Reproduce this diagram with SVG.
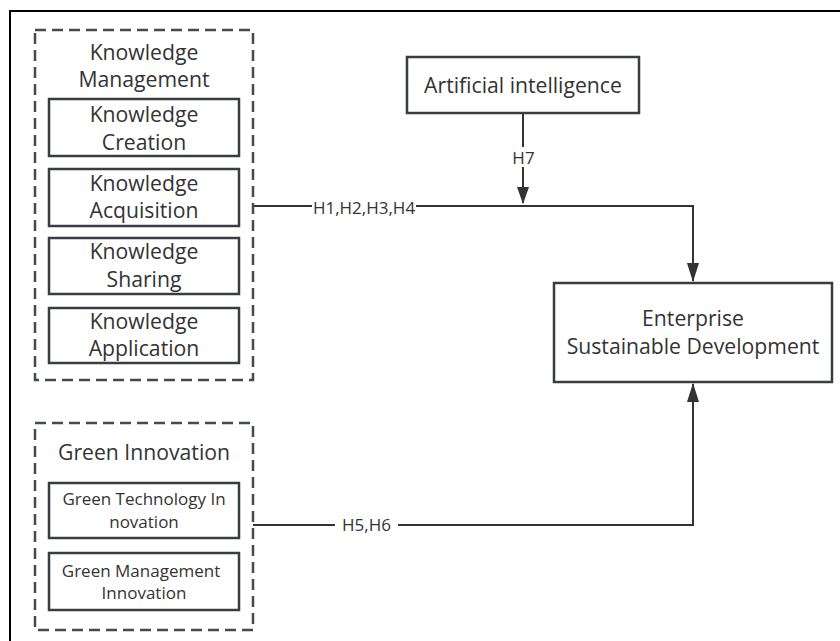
<svg xmlns="http://www.w3.org/2000/svg" width="840" height="641" viewBox="0 0 840 641">
<defs>
<style>
.t{font-family:"Open Sans","Noto Sans",sans-serif;fill:#333;text-anchor:middle}
.f21{font-size:21.2px}
.f17{font-size:17px}
.box{fill:#fff;stroke:#3a3d40;stroke-width:2.5}
.dash{fill:none;stroke:#444a50;stroke-width:2.5;stroke-dasharray:11 6}
.ln{fill:none;stroke:#333;stroke-width:2}
.lb{fill:#fff}
</style>
</defs>
<rect width="840" height="641" fill="#fff"/>
<rect x="10" y="11" width="840" height="650" fill="none" stroke="#000" stroke-width="2"/>

<g id="connectors">
<path class="ln" d="M253,206 H693 V281"/>
<path class="ln" d="M253,525 H693 V384"/>
<path class="ln" d="M523,113 V203"/>
<polygon points="517,187 529,187 523,204" fill="#333"/>
<polygon points="687,263 699,263 693,282" fill="#333"/>
<polygon points="687,402 699,402 693,383" fill="#333"/>
<rect class="lb" x="511" y="147" width="25" height="20"/>
<text class="t f17" x="523.5" y="164">H7</text>
<rect class="lb" x="312" y="199" width="104" height="21"/>
<text class="t f17" x="364" y="214">H1,H2,H3,H4</text>
<rect class="lb" x="335" y="515" width="63" height="21"/>
<text class="t f17" x="366.5" y="531">H5,H6</text>
</g>

<g id="knowledge-management">
<rect class="dash" x="35" y="30" width="218" height="350"/>
<text class="t f21" x="144" y="60">Knowledge</text>
<text class="t f21" x="144" y="87">Management</text>
</g>
<g id="knowledge-creation">
<rect class="box" x="49" y="99" width="190" height="57"/>
<text class="t f21" x="144" y="122">Knowledge</text>
<text class="t f21" x="144" y="150">Creation</text>
</g>
<g id="knowledge-acquisition">
<rect class="box" x="49" y="169" width="190" height="57"/>
<text class="t f21" x="144" y="191">Knowledge</text>
<text class="t f21" x="144" y="218">Acquisition</text>
</g>
<g id="knowledge-sharing">
<rect class="box" x="49" y="238" width="190" height="56"/>
<text class="t f21" x="144" y="259">Knowledge</text>
<text class="t f21" x="144" y="287">Sharing</text>
</g>
<g id="knowledge-application">
<rect class="box" x="49" y="308" width="190" height="55"/>
<text class="t f21" x="144" y="329">Knowledge</text>
<text class="t f21" x="144" y="356">Application</text>
</g>

<g id="green-innovation">
<rect class="dash" x="35" y="423" width="218" height="207"/>
<text class="t f21" x="144" y="460">Green Innovation</text>
</g>
<g id="green-technology-innovation">
<rect class="box" x="49" y="483" width="190" height="55"/>
<text class="t f17" x="144" y="505">Green Technology In</text>
<text class="t f17" x="144" y="528">novation</text>
</g>
<g id="green-management-innovation">
<rect class="box" x="49" y="553" width="190" height="57"/>
<text class="t f17" x="141" y="577">Green Management</text>
<text class="t f17" x="144" y="599">Innovation</text>
</g>

<g id="artificial-intelligence">
<rect class="box" x="407" y="57" width="232" height="56"/>
<text class="t f21" x="523" y="93">Artificial intelligence</text>
</g>

<g id="enterprise-sustainable-development">
<rect class="box" x="554" y="283" width="278" height="99"/>
<text class="t f21" x="693" y="326">Enterprise</text>
<text class="t f21" x="693" y="354">Sustainable Development</text>
</g>
</svg>
